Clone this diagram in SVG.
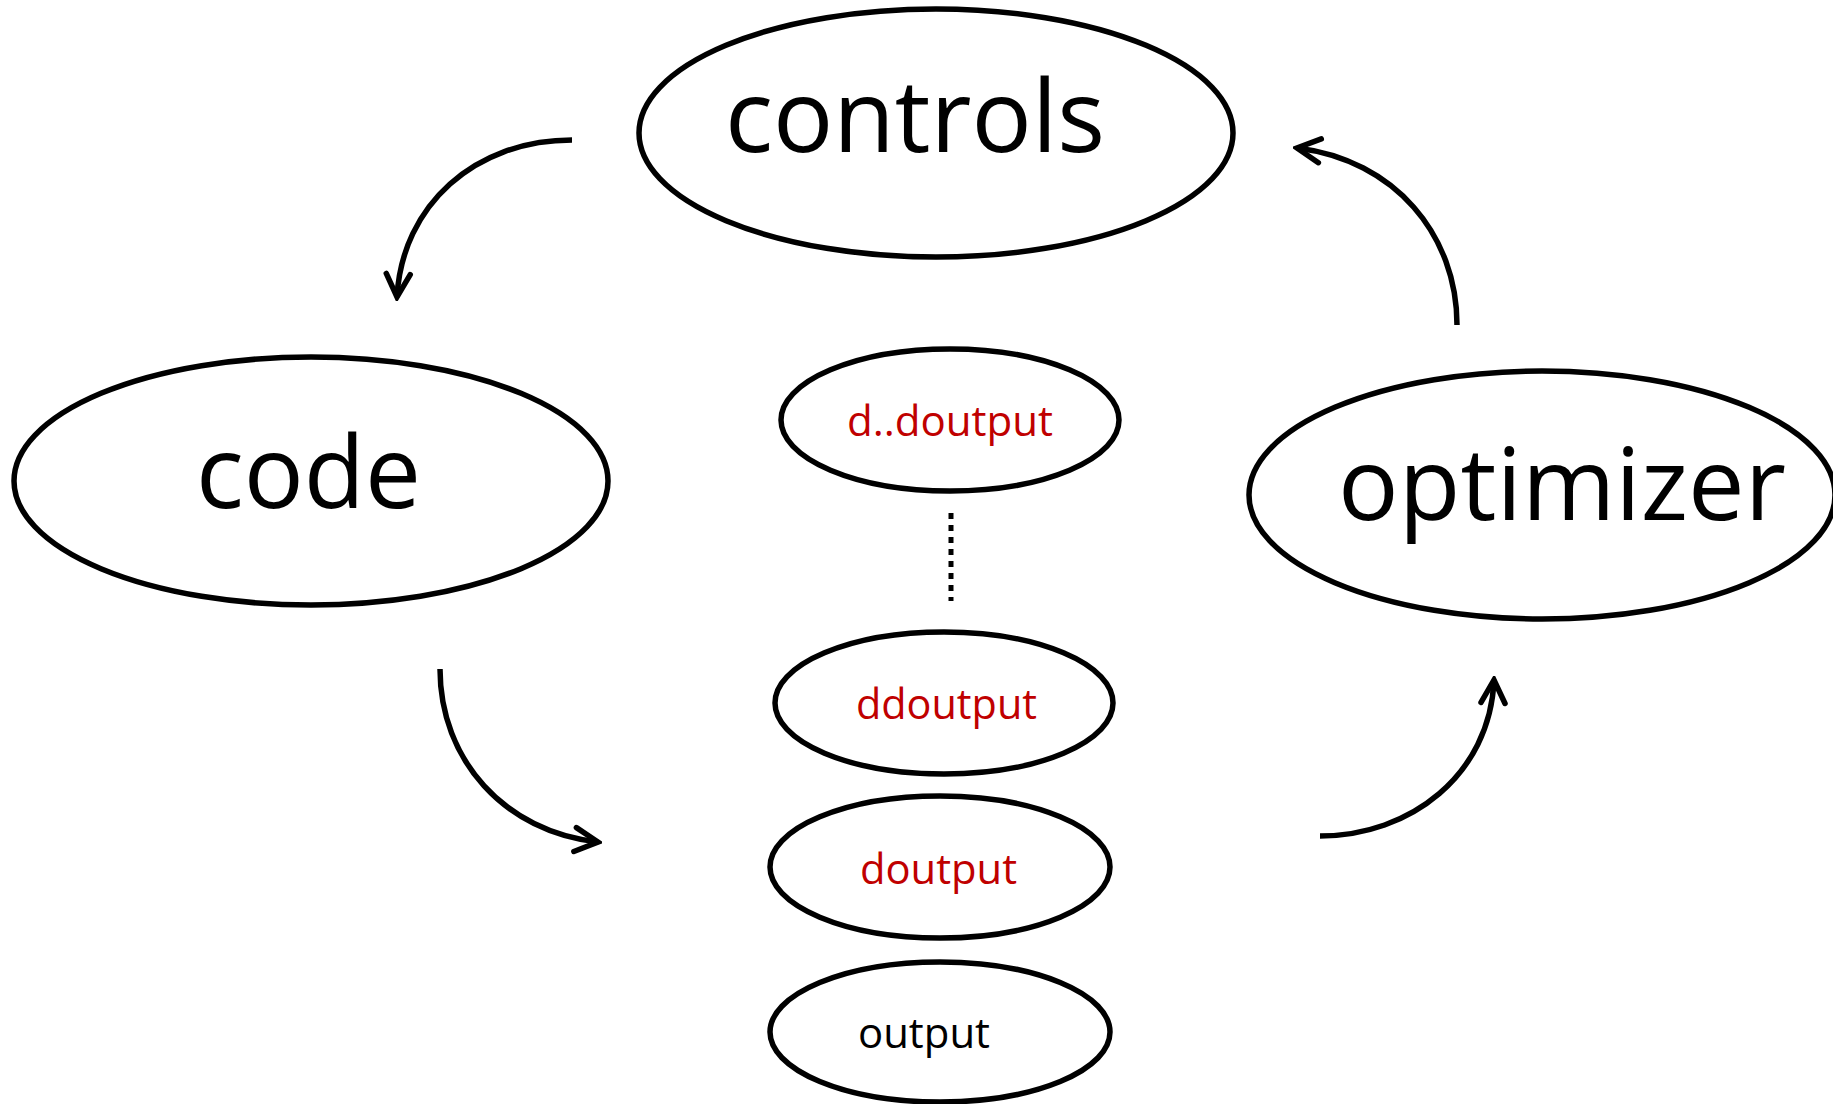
<svg xmlns="http://www.w3.org/2000/svg" width="1833" height="1104" viewBox="0 0 1833 1104">
  <style>
    .node { fill: #ffffff; stroke: #000000; stroke-width: 5.5; }
    .big { font-family: "Open Sans", "Noto Sans", sans-serif; font-size: 100px; fill: #000000; }
    .small { font-family: "Open Sans", "Noto Sans", sans-serif; font-size: 42px; }
    .red { fill: #C00000; }
    .black { fill: #000000; }
    .edge { fill: none; stroke: #000000; stroke-width: 5.5; }
    .dots { fill: none; stroke: #000000; stroke-width: 5; stroke-dasharray: 6 6; }
  </style>
  <defs>
    <marker id="chev" viewBox="-32 -18 36 36" refX="0" refY="0" markerWidth="36" markerHeight="36" markerUnits="userSpaceOnUse" orient="auto">
      <path d="M -23 -12 L 0 0 L -23 12" fill="none" stroke="#000000" stroke-width="5.5" stroke-linecap="round" stroke-linejoin="miter"/>
    </marker>
  </defs>
  <rect width="1833" height="1104" fill="#ffffff"/>

  <g id="controls">
    <ellipse class="node" cx="936" cy="133" rx="297" ry="124"/>
    <text class="big" x="725" y="152" textLength="380" lengthAdjust="spacingAndGlyphs">controls</text>
  </g>

  <g id="code">
    <ellipse class="node" cx="311" cy="481" rx="297" ry="124"/>
    <text class="big" x="196" y="508" textLength="225" lengthAdjust="spacingAndGlyphs">code</text>
  </g>

  <g id="optimizer">
    <ellipse class="node" cx="1542" cy="495" rx="293" ry="124"/>
    <text class="big" x="1338" y="520" textLength="448" lengthAdjust="spacingAndGlyphs">optimizer</text>
  </g>

  <g id="d-n-output">
    <ellipse class="node" cx="950" cy="420" rx="169" ry="71"/>
    <text class="small red" x="847" y="436" textLength="206" lengthAdjust="spacingAndGlyphs">d..doutput</text>
  </g>

  <g id="ddoutput">
    <ellipse class="node" cx="944" cy="703" rx="169" ry="71"/>
    <text class="small red" x="856" y="719" textLength="181" lengthAdjust="spacingAndGlyphs">ddoutput</text>
  </g>

  <g id="doutput">
    <ellipse class="node" cx="940" cy="867" rx="170" ry="71"/>
    <text class="small red" x="860" y="884" textLength="157" lengthAdjust="spacingAndGlyphs">doutput</text>
  </g>

  <g id="output">
    <ellipse class="node" cx="940" cy="1032" rx="170" ry="70"/>
    <text class="small black" x="858" y="1048" textLength="132" lengthAdjust="spacingAndGlyphs">output</text>
  </g>

  <g id="connectors">
    <!-- controls to code -->
    <path class="edge" d="M 572 140 C 475 140 402 205 397 297" marker-end="url(#chev)"/>
    <!-- code to outputs -->
    <path class="edge" d="M 440 669 C 440 760 505 832 598 842" marker-end="url(#chev)"/>
    <!-- outputs to optimizer -->
    <path class="edge" d="M 1320 836 C 1410 836 1490 775 1494 680" marker-end="url(#chev)"/>
    <!-- optimizer to controls -->
    <path class="edge" d="M 1457 325 C 1457 235 1395 160 1297 148" marker-end="url(#chev)"/>
    <!-- ellipsis between derivative orders -->
    <line class="dots" x1="951" y1="513" x2="951" y2="601"/>
  </g>
</svg>
